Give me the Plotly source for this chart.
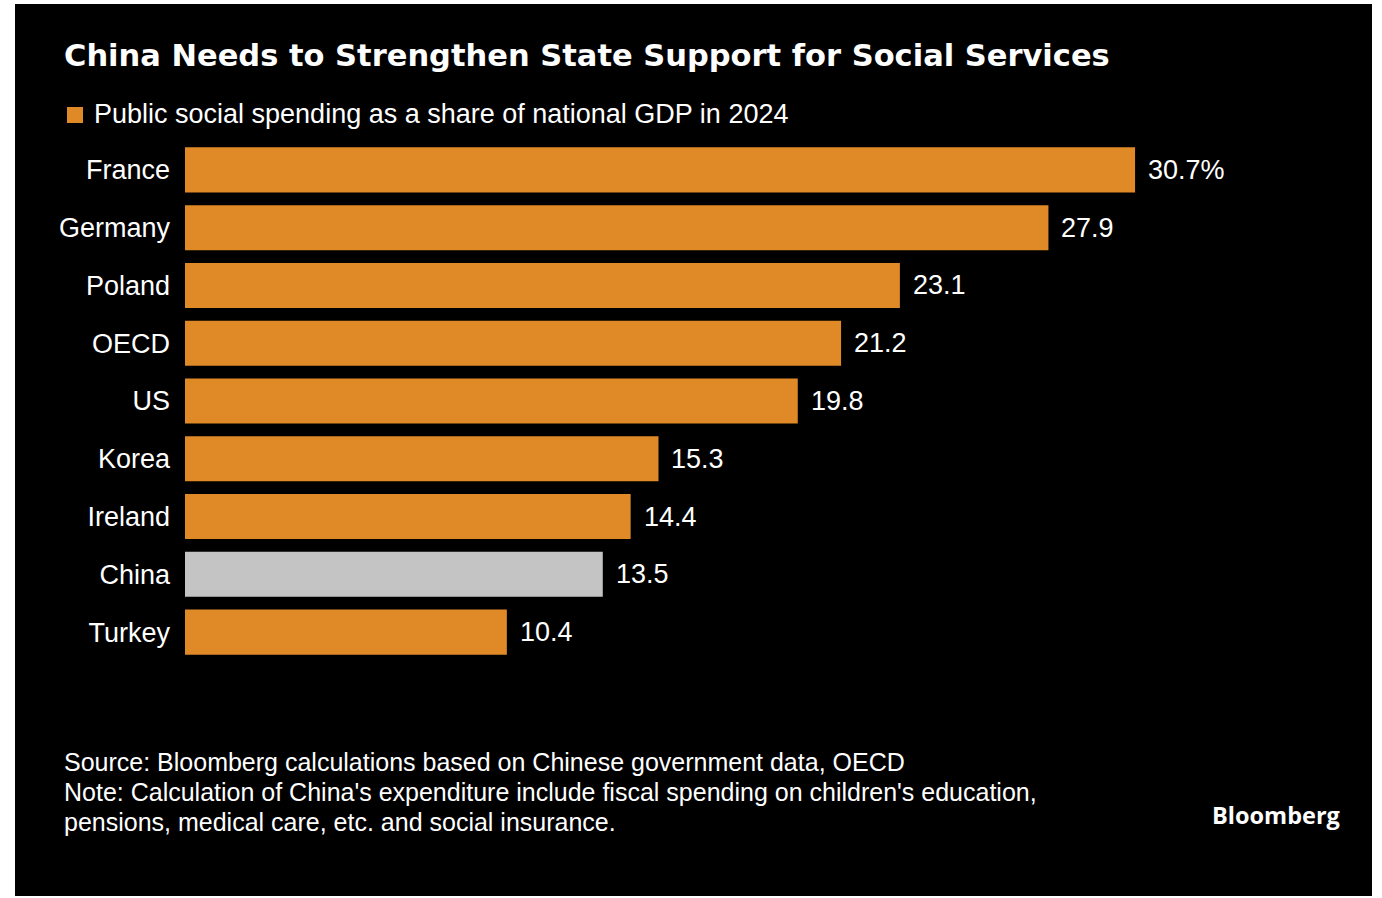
import plotly.graph_objects as go

# Public social spending as a share of national GDP, 2024 (%)
countries = ["France", "Germany", "Poland", "OECD", "US", "Korea", "Ireland", "China", "Turkey"]
spending = [30.7, 27.9, 23.1, 21.2, 19.8, 15.3, 14.4, 13.5, 10.4]
highlight = "China"

ORANGE = "#E08A27"
GREY = "#C4C4C4"
BG = "#000000"

W, H = 1382, 898
ML, MR, MT, MB = 185, 21, 141, 237
plot_w = W - ML - MR
plot_h = H - MT - MB
x_max = 38.0


def px_x(px):
    return (px - ML) / plot_w


def px_y(py):
    return (H - MB - py) / plot_h


colors = [GREY if c == highlight else ORANGE for c in countries]
labels = [f"{v}%" if i == 0 else f"{v}" for i, v in enumerate(spending)]

condensed = "Liberation Sans Narrow, Arial Narrow, sans-serif"

fig = go.Figure(
    go.Bar(
        x=spending,
        y=countries,
        orientation="h",
        marker=dict(color=colors, line=dict(width=0)),
        width=0.78,
        hoverinfo="skip",
    )
)

# value labels to the right of each bar
for c, v, t in zip(countries, spending, labels):
    fig.add_annotation(
        x=v, y=c, text=t, xanchor="left", yanchor="middle", xshift=11,
        showarrow=False, font=dict(family=condensed, size=27, color="white"),
    )

# title and subtitle
fig.add_annotation(
    xref="paper", yref="paper", x=px_x(62), y=px_y(56), xanchor="left", yanchor="middle",
    text="<b>China Needs to Strengthen State Support for Social Services</b>", showarrow=False,
    font=dict(family="DejaVu Sans, Verdana, sans-serif", size=30.5, color="white"),
)
fig.add_annotation(
    xref="paper", yref="paper", x=px_x(92), y=px_y(114), xanchor="left", yanchor="middle",
    text="Public social spending as a share of national GDP in 2024", showarrow=False,
    font=dict(family=condensed, size=27, color="white"),
)
fig.add_shape(
    type="rect", xref="paper", yref="paper", layer="above",
    x0=px_x(67), x1=px_x(83), y0=px_y(107), y1=px_y(123),
    fillcolor=ORANGE, line=dict(width=0),
)

# footnotes
notes = [
    "Source: Bloomberg calculations based on Chinese government data, OECD",
    "Note: Calculation of China's expenditure include fiscal spending on children's education,",
    "pensions, medical care, etc. and social insurance.",
]
for i, line in enumerate(notes):
    fig.add_annotation(
        xref="paper", yref="paper", x=px_x(62), y=px_y(762 + 30 * i), xanchor="left", yanchor="middle",
        text=line, showarrow=False, font=dict(family=condensed, size=25, color="white"),
    )

fig.add_annotation(
    xref="paper", yref="paper", x=px_x(1342), y=px_y(815), xanchor="right", yanchor="middle",
    text="<b>Bloomberg</b>", showarrow=False,
    font=dict(family="Open Sans, sans-serif", size=23.5, color="white"),
)

# dark panel behind everything
fig.add_shape(
    type="rect", xref="paper", yref="paper", layer="below",
    x0=px_x(15), x1=px_x(1372), y0=px_y(896), y1=px_y(4),
    fillcolor=BG, line=dict(width=0),
)

fig.update_layout(
    width=W, height=H,
    margin=dict(l=ML, r=MR, t=MT, b=MB, pad=0),
    paper_bgcolor="white", plot_bgcolor=BG,
    showlegend=False,
    bargap=0.22,
    xaxis=dict(range=[0, x_max], visible=False, fixedrange=True),
    yaxis=dict(
        autorange="reversed", showgrid=False, zeroline=False, showline=False,
        ticks="", ticklabelstandoff=14,
        tickfont=dict(family=condensed, size=27, color="white"),
    ),
)

fig.write_html("out.html")
